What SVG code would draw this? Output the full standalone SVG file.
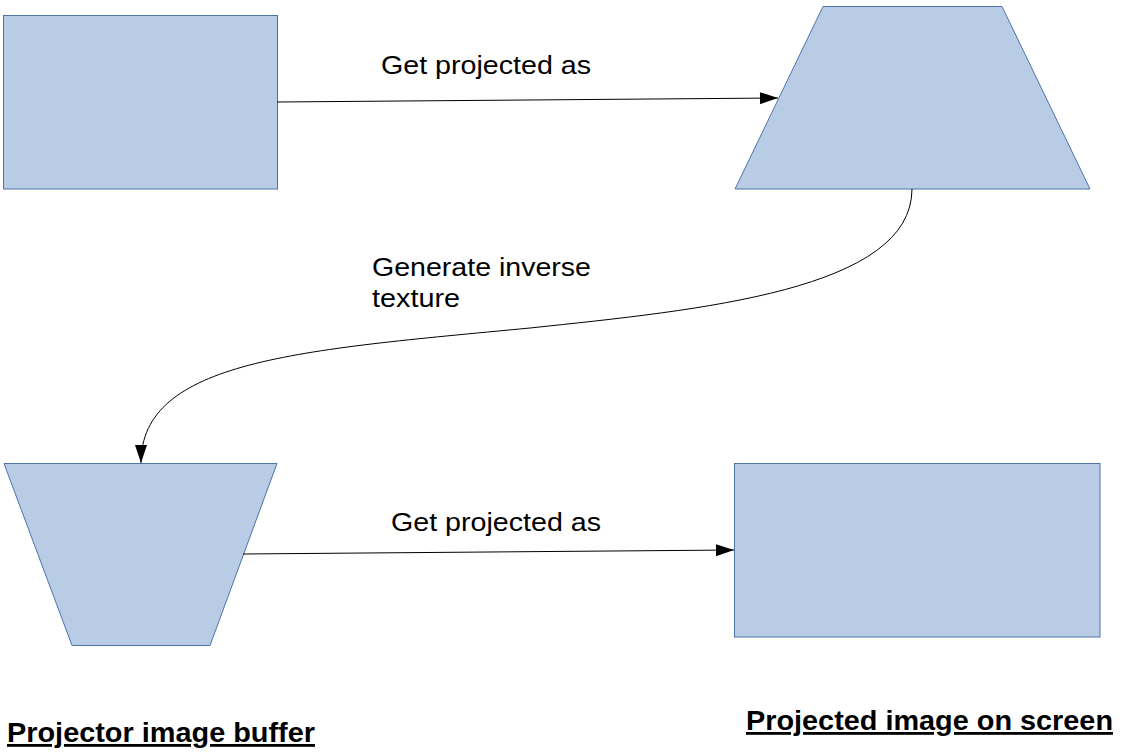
<svg xmlns="http://www.w3.org/2000/svg" width="1123" height="753" viewBox="0 0 1123 753">
<style>
.shape{fill:#b8cde5;stroke:#4f73a8;stroke-width:1}
.conn{fill:none;stroke:#000;stroke-width:1}
.lbl{font-family:"Liberation Sans",Arial,sans-serif;font-size:25px;fill:#000}
.title{font-family:"Liberation Sans",Arial,sans-serif;font-size:28px;font-weight:bold;fill:#000;text-decoration:underline}
</style>
<defs>
<marker id="arr" markerWidth="20" markerHeight="14" refX="19" refY="7" orient="auto" markerUnits="userSpaceOnUse">
<path d="M1,1 L19,7 L1,13 Z" fill="#000"/>
</marker>
</defs>
<rect width="1123" height="753" fill="#fff"/>
<g id="buffer-rect"><rect class="shape" x="3.5" y="15.5" width="274" height="173.5"/></g>
<g id="screen-trapezoid"><polygon class="shape" points="823,6.5 1002,6.5 1090,189 735,189"/></g>
<g id="buffer-trapezoid"><polygon class="shape" points="4,463.5 277,463.5 210,645.5 72,645.5"/></g>
<g id="screen-rect"><rect class="shape" x="734.5" y="463.5" width="365.5" height="173.5"/></g>
<g id="connectors">
<path class="conn" d="M277,102 L778,98" marker-end="url(#arr)"/>
<path class="conn" d="M243,554 L734,550" marker-end="url(#arr)"/>
<path class="conn" d="M912,189 C912,290 700,310 530,328 C300,350 141,360 141,463" marker-end="url(#arr)"/>
</g>
<g id="labels">
<text class="lbl" x="381" y="74" textLength="210" lengthAdjust="spacingAndGlyphs">Get projected as</text>
<text class="lbl" x="391" y="531" textLength="210" lengthAdjust="spacingAndGlyphs">Get projected as</text>
<text class="lbl" x="372" y="276" textLength="219" lengthAdjust="spacingAndGlyphs">Generate inverse</text>
<text class="lbl" x="372" y="307" textLength="88" lengthAdjust="spacingAndGlyphs">texture</text>
<text class="title" x="7" y="742" textLength="308" lengthAdjust="spacingAndGlyphs">Projector image buffer</text>
<text class="title" x="746" y="730" textLength="367" lengthAdjust="spacingAndGlyphs">Projected image on screen</text>
</g>
</svg>
